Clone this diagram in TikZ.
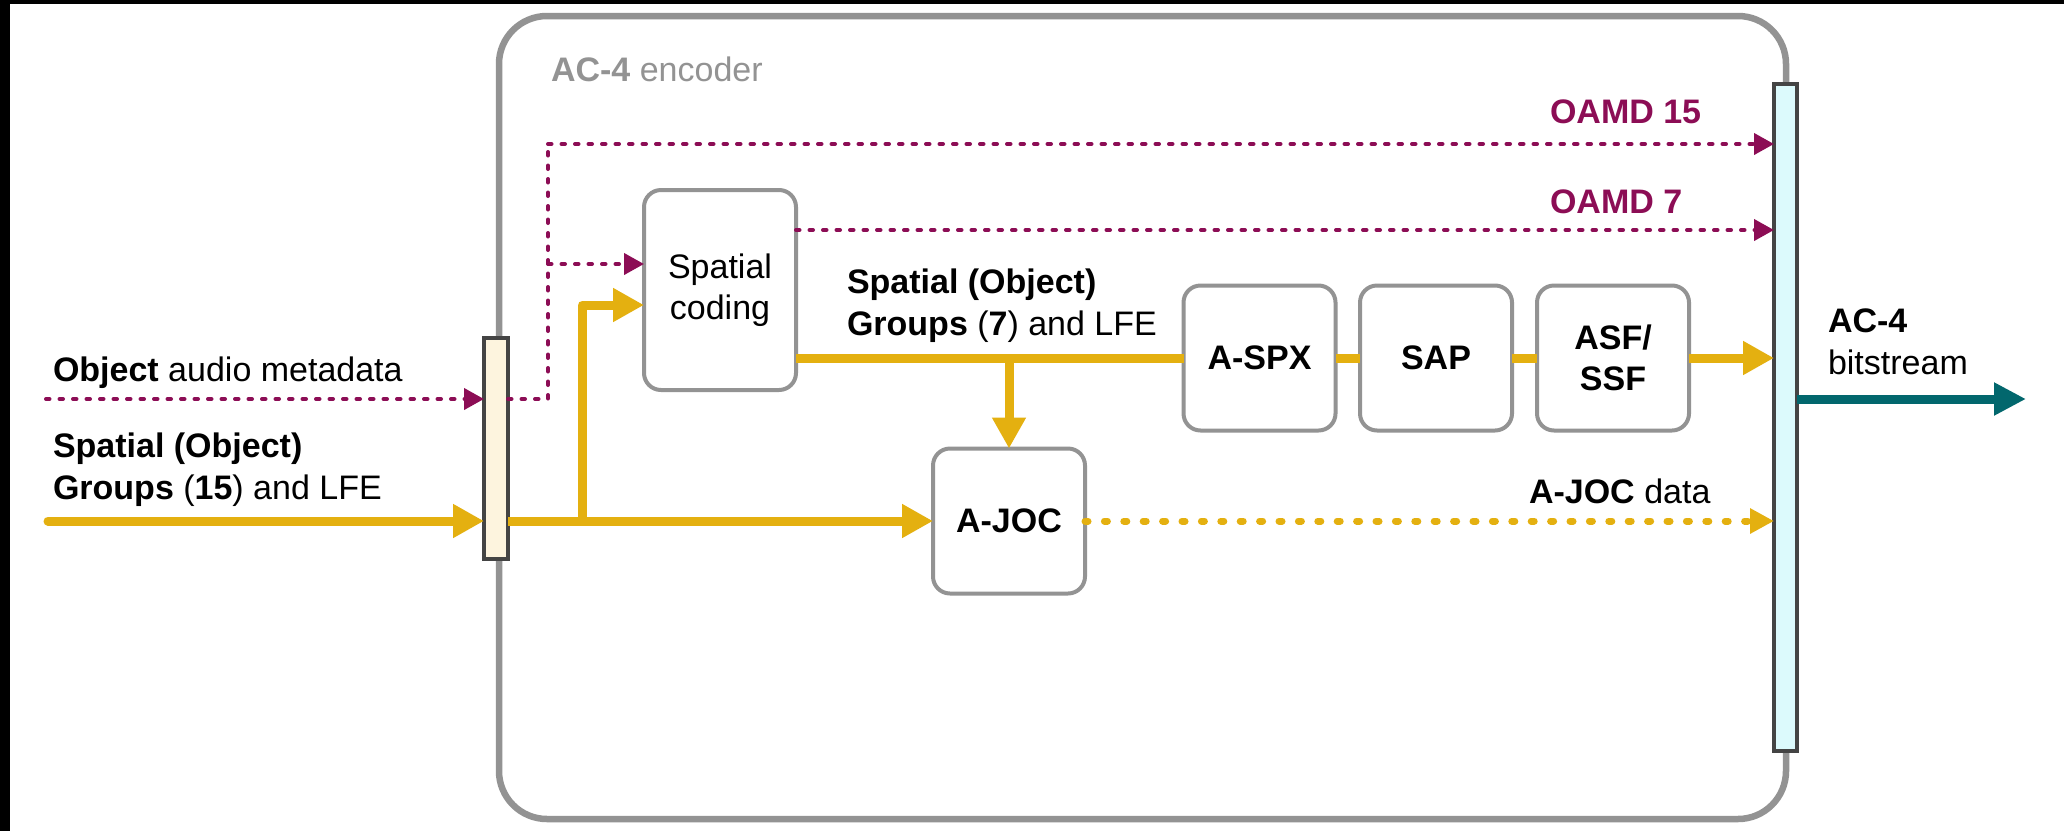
\documentclass[tikz,border=0pt]{standalone}
\usepackage{fontspec}
\setmainfont{Liberation Sans}
\usetikzlibrary{arrows.meta,calc}
\definecolor{gold}{HTML}{E4B010}
\definecolor{plum}{HTML}{8C0D55}
\definecolor{tealc}{HTML}{02676D}
\definecolor{boxgray}{HTML}{939393}
\definecolor{bardark}{HTML}{444444}
\definecolor{cream}{HTML}{FDF4DE}
\definecolor{icecyan}{HTML}{DCFAFC}
\begin{document}
\begin{tikzpicture}[x=1pt,y=-1pt,
  every node/.style={font=\fontsize{34}{41.5}\selectfont, inner sep=0pt, outer sep=0pt},
  blk/.style={draw=boxgray, line width=4pt, rounded corners=17pt, fill=white, align=center,
              minimum width=152pt, minimum height=145pt},
  barbox/.style={draw=bardark, line width=3.5pt},
  ysolid/.style={draw=gold, line width=9pt, line join=round},
  yarrow/.style={ysolid, -{Triangle[length=31pt,width=32pt]}},
  ydot/.style={draw=gold, line width=7pt, line cap=round, dash pattern=on 3pt off 16.4pt,
               -{Triangle[length=24pt,width=24pt]}},
  pdash/.style={draw=plum, line width=4pt, line cap=round, dash pattern=on 3.5pt off 10pt},
  parrow/.style={pdash, -{Triangle[length=20pt,width=21pt]}},
  tarrow/.style={draw=tealc, line width=9pt, -{Triangle[length=32pt,width=31pt]}},
  lbl/.style={anchor=base west, align=left}
]
\useasboundingbox (0,0) rectangle (2064,831);
\fill[white] (0,0) rectangle (2064,831);
\fill[black] (0,0) rectangle (10,831);
\fill[black] (0,0) rectangle (2064,4);

% encoder frame
\draw[boxgray, line width=6.5pt, rounded corners=48pt] (499,16) rectangle (1786,819);
\node[lbl, text=boxgray] (enc) at (551,81) {\textbf{AC-4} encoder};

% bars
\node[barbox, fill=cream, minimum width=24pt, minimum height=221pt] (lbar) at (496,448.5) {};
\node[barbox, fill=icecyan, minimum width=23pt, minimum height=667pt] (rbar) at (1785.5,417.5) {};

% blocks
\node[blk, minimum height=200pt] (sc) at (720,290) {Spatial\\coding};
\node[blk] (ajoc) at (1009,521) {\textbf{A-JOC}};
\node[blk] (aspx) at (1259.5,358) {\textbf{A-SPX}};
\node[blk] (sap) at (1436,358) {\textbf{SAP}};
\node[blk] (asf) at (1613,358) {\textbf{ASF/}\\\textbf{SSF}};

% coordinates
\coordinate (inP) at (46,399);
\coordinate (inY) at (48,521);
\coordinate (pcorner) at (548,399);
\coordinate (pbranch) at (548,264);
\coordinate (ptop) at (548,144);
\coordinate (split) at (582,521);
\coordinate (outE) at (2026,399);
\coordinate (o7) at ($(sc.east)+(0,-60)$);
\coordinate (g7) at ($(sc.east)+(0,68)$);
\coordinate (scin) at ($(sc.west)+(0,15)$);

% inputs
\draw[parrow] (inP) -- (inP -| lbar.west);
\draw[yarrow, line cap=round] (inY) -- (inY -| lbar.west);

% metadata paths
\draw[pdash] (lbar.east |- pcorner) -- (pcorner) -- (ptop);
\draw[parrow] (ptop) -- (ptop -| rbar.west);
\draw[parrow] (pbranch) -- (pbranch -| sc.west);
\draw[parrow] (o7) -- (o7 -| rbar.west);

% audio paths
\draw[yarrow] (lbar.east |- inY) -- (ajoc.west);
\draw[yarrow] (split) |- (scin);
\draw[ysolid] (g7) -- (aspx.west);
\draw[yarrow] (ajoc.north |- aspx.west) -- (ajoc.north);
\draw[ysolid] (aspx.east) -- (sap.west);
\draw[ysolid] (sap.east) -- (asf.west);
\draw[yarrow] (asf.east) -- (asf.east -| rbar.west);
\draw[ydot] (ajoc.east) -- (ajoc.east -| rbar.west);
\draw[tarrow] (rbar.east |- outE) -- (outE);

% labels
\node[lbl] (objlbl) at (53,381) {\textbf{Object} audio metadata};
\node[lbl] (in15) at (53,499) {\textbf{Spatial (Object)}\\\textbf{Groups} (\textbf{15}) and LFE};
\node[lbl] (grp7) at (847,335) {\textbf{Spatial (Object)}\\\textbf{Groups} (\textbf{7}) and LFE};
\node[lbl, text=plum] (oamd15) at (1550,123) {\textbf{OAMD 15}};
\node[lbl, text=plum] (oamd7) at (1550,213) {\textbf{OAMD 7}};
\node[lbl] (ajocd) at (1529,503) {\textbf{A-JOC} data};
\node[lbl] (ac4) at (1828,374) {\textbf{AC-4}\\bitstream};
\end{tikzpicture}
\end{document}
